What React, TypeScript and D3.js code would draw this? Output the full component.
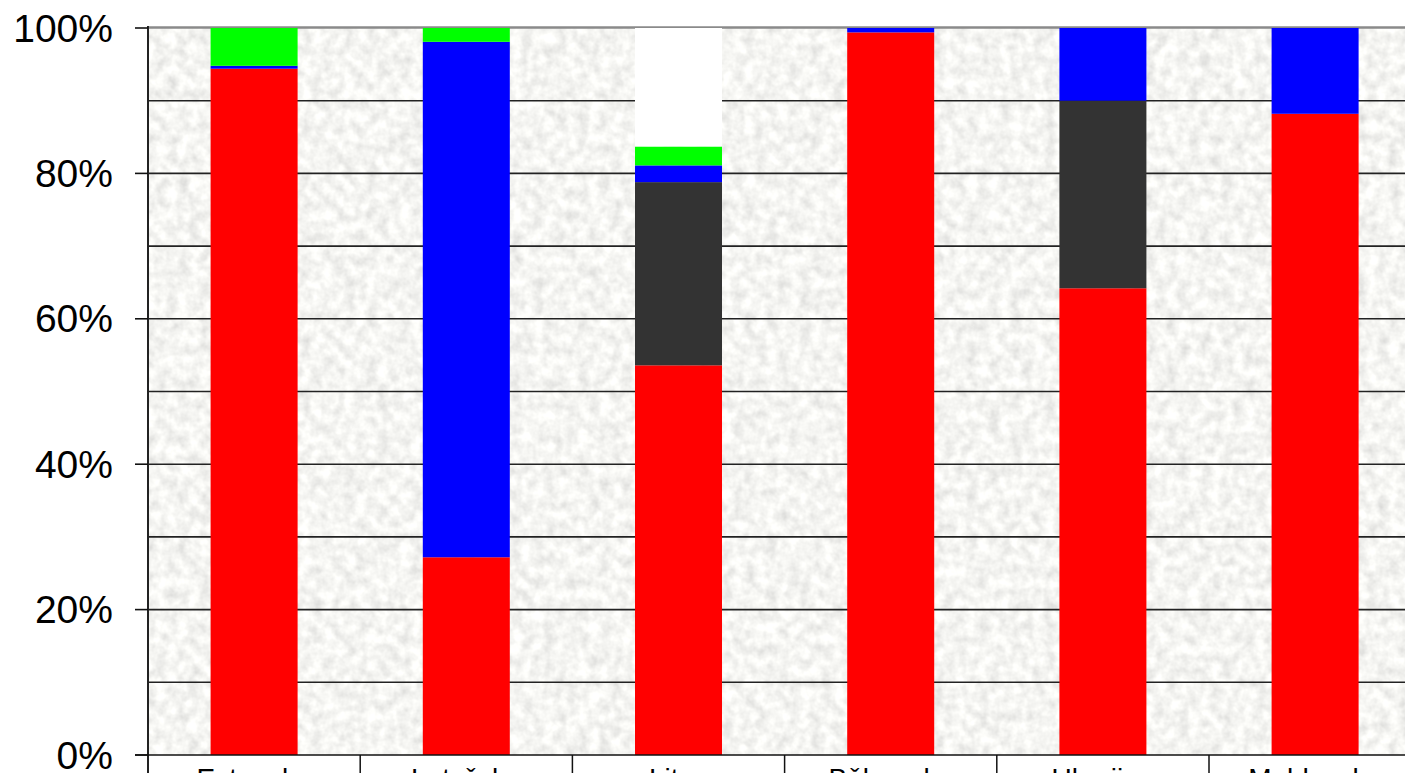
import React from "react";
import * as d3 from "d3";

const categories = ["Estonsko", "Lotyšsko", "Litva", "Bělorusko", "Ukrajina", "Moldavsko"];
const seriesNames = ["s1", "s2", "s3", "s4", "s5"];
const seriesColors = ["#ff0000", "#333333", "#0000ff", "#00ff00", "#ffffff"];
const s1 = [94.4, 27.2, 53.6, 99.4, 64.2, 88.2];
const s2 = [0, 0, 25.2, 0, 25.8, 0];
const s3 = [0.4, 70.9, 2.3, 0.6, 10.0, 11.8];
const s4 = [5.2, 1.9, 2.6, 0, 0, 0];
const s5 = [0, 0, 16.3, 0, 0, 0];
const yTicks = [0, 20, 40, 60, 80, 100];
const yGrid = [10, 20, 30, 40, 50, 60, 70, 80, 90];

const W = 1405;
const H = 773;
const left = 148;
const top = 28;
const bottom = 755;
const right = left + 6 * 212.2;

export default function App() {
  const seriesValues = [s1, s2, s3, s4, s5];
  const rows = categories.map((c, i) => {
    const o: any = { cat: c };
    seriesNames.forEach((n, k) => (o[n] = seriesValues[k][i]));
    return o;
  });
  const stacked = d3.stack().keys(seriesNames).offset(d3.stackOffsetExpand)(rows);
  const x = d3.scaleBand().domain(categories).range([left, right]).padding(0);
  const y = d3.scaleLinear().domain([0, 1]).range([bottom, top]);
  const bw = x.bandwidth() * 0.41;

  return (
    <svg
      width={W}
      height={H}
      style={{ position: "absolute", left: 0, top: 0 }}
      fontFamily="'Liberation Sans', Arial, sans-serif"
    >
      <defs>
        <filter id="tex" x="0" y="0" width="100%" height="100%">
          <feTurbulence type="fractalNoise" baseFrequency="0.09" numOctaves="3" seed="3" result="n" />
          <feColorMatrix
            in="n"
            type="matrix"
            values="0.45 0 0 0 0.69  0.45 0 0 0 0.69  0.43 0 0 0 0.675  0 0 0 0 1"
          />
        </filter>
      </defs>
      <rect x={0} y={0} width={W} height={H} fill="#ffffff" />
      <rect x={left} y={top} width={right - left} height={bottom - top} filter="url(#tex)" />
      {yGrid.map((t) => (
        <line key={t} x1={left} x2={right} y1={y(t / 100)} y2={y(t / 100)} stroke="#222" strokeWidth={1.6} />
      ))}
      <line x1={left} x2={right} y1={top - 0.5} y2={top - 0.5} stroke="#8a8a8a" strokeWidth={2.5} />
      {stacked.map((s, k) => (
        <g key={seriesNames[k]} fill={seriesColors[k]}>
          {s.map((d, i) => (
            <rect
              key={i}
              x={(x(categories[i]) as number) + (x.bandwidth() - bw) / 2}
              y={y(d[1])}
              width={bw}
              height={Math.max(0, y(d[0]) - y(d[1]))}
            />
          ))}
        </g>
      ))}
      <line x1={left} x2={left} y1={top - 2} y2={H} stroke="#222" strokeWidth={2} />
      <line x1={left - 13} x2={right} y1={bottom} y2={bottom} stroke="#111" strokeWidth={1.6} />
      {yTicks.map((t) => (
        <g key={t}>
          <line x1={left - 13} x2={left} y1={y(t / 100)} y2={y(t / 100)} stroke="#111" strokeWidth={1.6} />
          <text x={113} y={y(t / 100)} textAnchor="end" dominantBaseline="central" fontSize={39} fill="#000">
            {t}%
          </text>
        </g>
      ))}
      {categories.map((c, i) => (
        <g key={c}>
          <line
            x1={(x(c) as number) + x.bandwidth()}
            x2={(x(c) as number) + x.bandwidth()}
            y1={bottom}
            y2={H}
            stroke="#111"
            strokeWidth={1.5}
          />
          <text x={(x(c) as number) + x.bandwidth() / 2} y={788} textAnchor="middle" fontSize={28} fill="#000">
            {c}
          </text>
        </g>
      ))}
    </svg>
  );
}
